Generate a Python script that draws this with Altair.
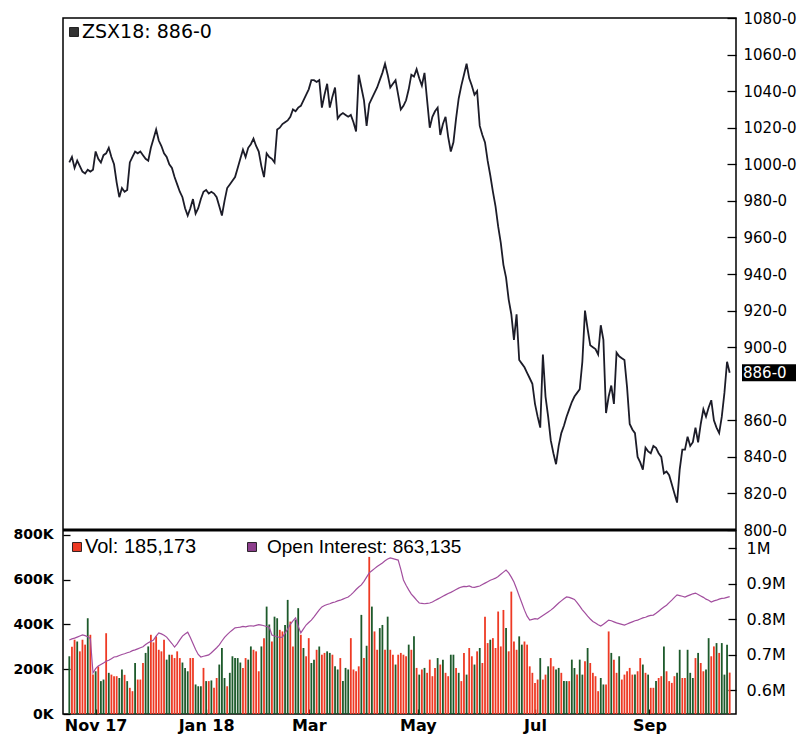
import altair as alt
import pandas as pd

# ---------------- data ----------------
price = [
    1001, 1004, 998, 1002, 999, 996, 995, 997, 996, 997,
    1007, 1003, 1001, 1005, 1006, 1009, 1004, 1000, 990, 982,
    987, 985, 986, 1001, 1004, 1007, 1006, 1007, 1005, 1003,
    1002, 1009, 1014, 1019, 1013, 1010, 1006, 1004, 1000, 998,
    993, 989, 985, 982, 976, 972, 976, 981, 973, 976,
    981, 985, 986, 984, 985, 984, 982, 977, 972, 980,
    987, 989, 991, 993, 998, 1003, 1008, 1004, 1009, 1011,
    1014, 1010, 1007, 999, 993, 1006, 1004, 1003, 1001, 1019,
    1020, 1022, 1023, 1024, 1026, 1030, 1029, 1031, 1032, 1035,
    1038, 1041, 1046, 1046, 1045, 1046, 1031, 1038, 1044, 1031,
    1037, 1042, 1025, 1027, 1028, 1027, 1026, 1027, 1023, 1018,
    1049, 1042, 1035, 1021, 1033, 1036, 1039, 1042, 1046, 1050,
    1055, 1049, 1042, 1044, 1046, 1038, 1030, 1032, 1035, 1041,
    1049, 1048, 1052, 1047, 1043, 1050, 1035, 1020, 1026, 1029,
    1031, 1016, 1022, 1026, 1015, 1007, 1012, 1025, 1036, 1043,
    1049, 1055, 1047, 1043, 1038, 1040, 1021, 1016, 1012, 1002,
    994, 985, 977, 966, 957, 945, 938, 926, 918, 904,
    918, 893, 891, 889, 886, 883, 880, 869, 862, 856,
    896, 873, 862, 849, 842, 836, 846, 853, 857, 862,
    866, 870, 873, 875, 877, 892, 920, 910, 901, 900,
    899, 896, 912, 904, 864, 873, 879, 869, 897, 895,
    894, 893, 878, 858, 855, 853, 840, 837, 833, 845,
    843, 842, 846, 845, 842, 840, 831, 832, 830, 825,
    820, 815, 833, 844, 844, 851, 846, 848, 856, 848,
    858, 866, 862, 867, 871, 860, 856, 853, 862, 875,
    892, 886,
]

open_interest_k = [
    741, 744, 746, 749, 752, 755, 753, 750, 745, 648,
    660, 668, 672, 676, 681, 684, 688, 693, 694, 697,
    700, 702, 705, 707, 711, 713, 716, 719, 722, 728,
    733, 737, 741, 752, 761, 758, 754, 749, 740, 731,
    721, 730, 741, 752, 758, 763, 748, 731, 714, 700,
    693, 695, 697, 699, 705, 712, 719, 727, 738, 748,
    756, 763, 769, 775, 776, 777, 779, 778, 780, 781,
    780, 782, 784, 783, 781, 779, 777, 755, 752, 750,
    748, 749, 760, 772, 785, 795, 803, 780, 761, 772,
    783, 790, 797, 806, 816, 826, 834, 838, 841, 843,
    846, 848, 851, 853, 856, 859, 862, 868, 875, 883,
    890, 896, 906, 918, 930, 936, 942, 948, 953, 958,
    964, 969, 972, 970, 968, 966, 940, 910, 895, 882,
    870, 862, 853, 845, 844, 843, 844, 845, 848, 852,
    856, 860, 864, 868, 872, 875, 879, 883, 887, 890,
    892, 891, 893, 890, 889, 891, 893, 897, 901, 905,
    909, 912, 915, 920, 926, 932, 938, 930, 918, 904,
    885, 865, 845, 825, 808, 797, 799, 801, 800, 805,
    810, 815, 820, 825, 831, 838, 845, 851, 857, 862,
    861, 858, 855, 846, 836, 826, 817, 808, 800, 793,
    789, 784, 780, 785, 791, 797, 795, 792, 789, 787,
    785, 783, 786, 789, 792, 795, 797, 800, 803, 805,
    808, 810, 811, 816, 822, 828, 834, 839, 846, 853,
    861, 868, 866, 864, 862, 865, 868, 871, 873, 869,
    865, 861, 856, 853, 848, 851, 853, 856, 858, 859,
    861, 863,
]

volume_k = [
    258, 300, 332, 324, 280, 332, 310, 428, 354, 176,
    191, 213, 147, 154, 361, 184, 176, 169, 169, 161,
    199, 175, 147, 117, 102, 228, 154, 154, 228, 273,
    302, 354, 320, 347, 287, 280, 332, 243, 265, 265,
    250, 280, 250, 230, 206, 191, 250, 250, 132, 124,
    124, 206, 147, 147, 150, 117, 161, 221, 295, 161,
    124, 184, 258, 250, 250, 230, 206, 250, 243, 302,
    287, 280, 191, 302, 339, 480, 400, 324, 435, 428,
    376, 369, 398, 510, 413, 302, 421, 473, 354, 295,
    258, 339, 228, 243, 287, 302, 265, 273, 280, 273,
    265, 213, 199, 250, 147, 206, 199, 339, 199, 191,
    213, 443, 250, 305, 702, 480, 369, 287, 384, 398,
    287, 435, 287, 265, 221, 265,
    273, 265, 258, 310, 287, 347, 206, 176, 199, 206,
    184, 243, 169, 206, 250, 221, 243, 184, 169, 265,
    265, 206, 184, 147, 273, 176, 295, 258, 221, 280,
    295, 228, 435, 317, 332, 339, 295, 458, 302, 465,
    384, 280, 547, 324, 287, 347, 310, 324, 310, 213,
    184, 139, 154, 250, 154, 176, 213, 250, 213, 199,
    206, 184, 147, 147, 147, 243, 206, 176, 243, 176,
    236, 295, 228, 184, 169, 102, 161, 132, 132, 369,
    273, 243, 184, 258, 154, 176, 191, 206, 176, 176,
    191, 250, 221, 184, 176, 117, 117, 147, 161, 169,
    302, 191, 147, 139, 169, 184, 287, 161, 161, 287,
    184, 161, 250, 273, 228, 191, 199, 339, 258, 302,
    317, 273, 317, 176, 310, 185,
]

# bar colour per day: g = up (green), r = down (red)
bar_colour_codes = (
    "grrgrrrgrr" "grggrgrrrg" "grgrrgrrrg" "grrrrrrggr" "rrrgggrrgg"
    "grgrgrrggg" "rgggggrrgg" "rrrgrggrgg" "rrggrrggrg" "rrggrgrrgg"
    "rggrgggrrr" "rgrgrgrrgg" "rgrrgr"
    "rrrgrgrgrg" "rrrrgrgrrg" "grgrrgrrgr" "grrrgrrrrr" "grrrrggrrr"
    "rrrgrrgrrg" "grggrggrgg" "rgrrrrggrr" "grrgrrrrrg" "rrgrgrrgrr"
    "grrrrggrrg" "ggrgrrggrr" "grgggr"
)

month_ticks = [10, 52, 91, 132.5, 177, 220.5]
month_labels = ["Nov 17", "Jan 18", "Mar", "May", "Jul", "Sep"]
price_ticks = [800, 820, 840, 860, 900, 920, 940, 960, 980, 1000, 1020, 1040, 1060, 1080]
volume_ticks = [0, 200000, 400000, 600000, 800000]
oi_ticks = [600000, 700000, 800000, 900000, 1000000]

symbol = "ZSX18"
last_price = 886
last_volume = 185173
last_oi = 863135

assert len(price) == len(open_interest_k) == len(volume_k) == len(bar_colour_codes)

n = len(price)
df = pd.DataFrame({
    "i": list(range(n)),
    "price": price,
    "vol": [v * 1000 for v in volume_k],
    "oi": [o * 1000 for o in open_interest_k],
    "dir": ["up" if c == "g" else "down" for c in bar_colour_codes],
})
one = pd.DataFrame({"k": [0]})

W, H = 673, 696
GREEN, RED, PURPLE = "#1d5a2b", "#ee3a24", "#a24e9e"

x_scale = alt.Scale(domain=[-0.5, n - 0.5], nice=False, zero=False)
price_scale = alt.Scale(domain=[699.4, 1080], nice=False, zero=False)
vol_scale = alt.Scale(domain=[0, 3110600], nice=False, zero=False)
oi_scale = alt.Scale(domain=[532400, 2493000], nice=False, zero=False)

month_expr = "''"
for t, lab in reversed(list(zip(month_ticks, month_labels))):
    month_expr = f"abs(datum.value - {t}) < 0.01 ? '{lab}' : ({month_expr})"

x_axis = alt.Axis(values=month_ticks, labelExpr=month_expr, title=None, grid=False,
                  domain=False, tickSize=5, offset=-5, labelPadding=3,
                  labelFont="DejaVu Sans", labelFontWeight="bold", labelFontSize=16,
                  labelColor="black", tickColor="black", tickWidth=1.3,
                  labelFlush=False, labelOverlap=False)

price_axis = alt.Axis(orient="right", values=price_ticks, labelExpr="datum.value + '-0'",
                      offset=-9, tickSize=9, labelPadding=7, domain=False, grid=False,
                      title=None, labelFont="DejaVu Sans", labelFontSize=15,
                      labelColor="black", tickColor="black", tickWidth=1.3,
                      labelOverlap=False, labelFlush=False)

vol_axis = alt.Axis(orient="left", values=volume_ticks,
                    labelExpr="format(datum.value / 1000, 'd') + 'K'",
                    offset=-7, tickSize=7, labelPadding=10, domain=False, grid=False,
                    title=None, labelFont="DejaVu Sans", labelFontWeight="bold",
                    labelFontSize=14, labelColor="black", tickColor="black",
                    tickWidth=1.3, labelOverlap=False, labelFlush=False)

oi_axis = alt.Axis(orient="right", values=oi_ticks,
                   labelExpr="datum.value >= 1000000 ? '1M' : format(datum.value / 1000000, '.1f') + 'M'",
                   offset=-8, tickSize=8, labelPadding=10, domain=False, grid=False,
                   title=None, labelFont="DejaVu Sans", labelFontSize=16,
                   labelColor="black", tickColor="black", tickWidth=1.3,
                   labelOverlap=False, labelFlush=False)

x_enc = alt.X("i:Q", scale=x_scale, axis=x_axis)

# ---------------- volume panel ----------------
bars = alt.Chart(df).mark_bar(size=1.8).encode(
    x=x_enc,
    y=alt.Y("vol:Q", scale=vol_scale, axis=vol_axis),
    color=alt.Color("dir:N", scale=alt.Scale(domain=["up", "down"], range=[GREEN, RED]), legend=None),
)

oi_line = alt.Chart(df).mark_line(color=PURPLE, strokeWidth=1.2).encode(
    x=x_enc,
    y=alt.Y("oi:Q", scale=oi_scale, axis=oi_axis),
)

# ---------------- price panel ----------------
price_line = alt.Chart(df).mark_line(color="#1c1c28", strokeWidth=1.8).encode(
    x=x_enc,
    y=alt.Y("price:Q", scale=price_scale, axis=price_axis),
)
separator = alt.Chart(one).mark_rule(color="black", strokeWidth=3).encode(
    y=alt.YDatum(800, type="quantitative", scale=price_scale, axis=price_axis),
)
last_box = alt.Chart(one).mark_rect(color="black").encode(
    x=alt.value(W + 6), x2=alt.value(W + 60),
    y=alt.YDatum(last_price + 4.6, type="quantitative", scale=price_scale, axis=price_axis),
    y2=alt.Y2Datum(last_price - 4.6),
)
last_text = alt.Chart(one).mark_text(color="white", align="left", baseline="middle",
                                     font="DejaVu Sans", fontSize=15).encode(
    x=alt.value(W + 7),
    y=alt.YDatum(last_price, type="quantitative", scale=price_scale, axis=price_axis),
    text=alt.value(f"{last_price}-0"),
)
price_group = alt.layer(price_line, separator, last_box, last_text)

# ---------------- legends ----------------
def square(px, py, fill):
    return alt.Chart(one).mark_square(size=80, fill=fill, stroke="black", strokeWidth=0.8,
                                      opacity=1).encode(x=alt.value(px), y=alt.value(py))

def label(px, py, txt, font, size):
    return alt.Chart(one).mark_text(align="left", baseline="middle", font=font,
                                    fontSize=size, color="black").encode(
        x=alt.value(px), y=alt.value(py), text=alt.value(txt))

legends = alt.layer(
    square(11, 14, "#333333"),
    label(19, 14, f"{symbol}: {last_price}-0", "DejaVu Sans", 19),
    square(14, 529, RED),
    label(22, 529, f"Vol: {last_volume:,}", "Liberation Sans", 20),
    square(189, 529, "#8e3f8e"),
    label(204, 529, f"Open Interest: {last_oi:,}", "Liberation Sans", 19),
)

chart = alt.layer(bars, oi_line, price_group, legends).resolve_scale(
    y="independent"
).properties(
    width=W, height=H,
    autosize=alt.AutoSizeParams(type="none"),
    padding={"left": 55, "top": 10, "right": 61, "bottom": 20},
    background="white",
).configure_view(stroke="black", strokeWidth=1.5)

chart.save("out.html", embed_options={"renderer": "svg", "actions": False})
